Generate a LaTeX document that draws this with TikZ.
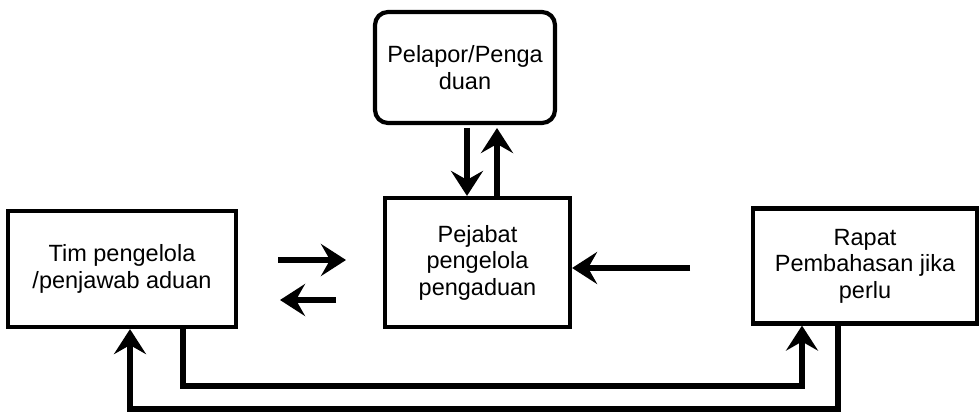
\documentclass[tikz,border=0pt]{standalone}
\usepackage{fontspec}
\setmainfont{Liberation Sans}
\usetikzlibrary{arrows.meta}
\begin{document}
\begin{tikzpicture}[x=1pt,y=-1pt,
  boxst/.style={draw, line width=4.2pt, inner sep=0pt, align=center,
    font=\fontsize{23.5}{26.5}\selectfont},
  conn/.style={line width=5.5pt, -{Stealth[length=25pt,width=32pt,inset=9pt]}}]
\useasboundingbox (0,0) rectangle (980,417);
\node[boxst, rounded corners=13pt, minimum width=180pt, minimum height=111pt] (pel) at (465,67.5) {Pelapor/Penga\\duan};
\node[boxst, minimum width=185pt, minimum height=129pt] (pej) at (477.5,262.5) {Pejabat\\pengelola\\pengaduan};
\node[boxst, minimum width=228pt, minimum height=116pt] (tim) at (122,269) {Tim pengelola\\/penjawab aduan};
\node[boxst, minimum width=224pt, minimum height=115pt] (rap) at (865,266) {Rapat\\Pembahasan jika\\perlu};
% vertical arrows
\coordinate (d1) at (467,128);
\coordinate (u2) at (497,128);
\draw[conn] (d1) -- (d1 |- pej.north);
\draw[conn] (u2 |- pej.north) -- (u2);
% horizontal floating arrows
\coordinate (r1) at (278,260);
\coordinate (r2) at (346,260);
\coordinate (l1) at (336,300);
\coordinate (l2) at (280,300);
\draw[conn] (r1) -- (r2);
\draw[conn] (l1) -- (l2);
\coordinate (p1) at (690,268);
\draw[conn] (p1) -- (pej.east |- p1);
% bottom connectors
\draw[conn] (tim.south -| 183,0) -- (183,386) -- (802,386) -- (rap.south -| 802,0);
\draw[conn] (rap.south -| 838,0) -- (838,409) -- (130,409) -- (tim.south -| 130,0);
\end{tikzpicture}
\end{document}
